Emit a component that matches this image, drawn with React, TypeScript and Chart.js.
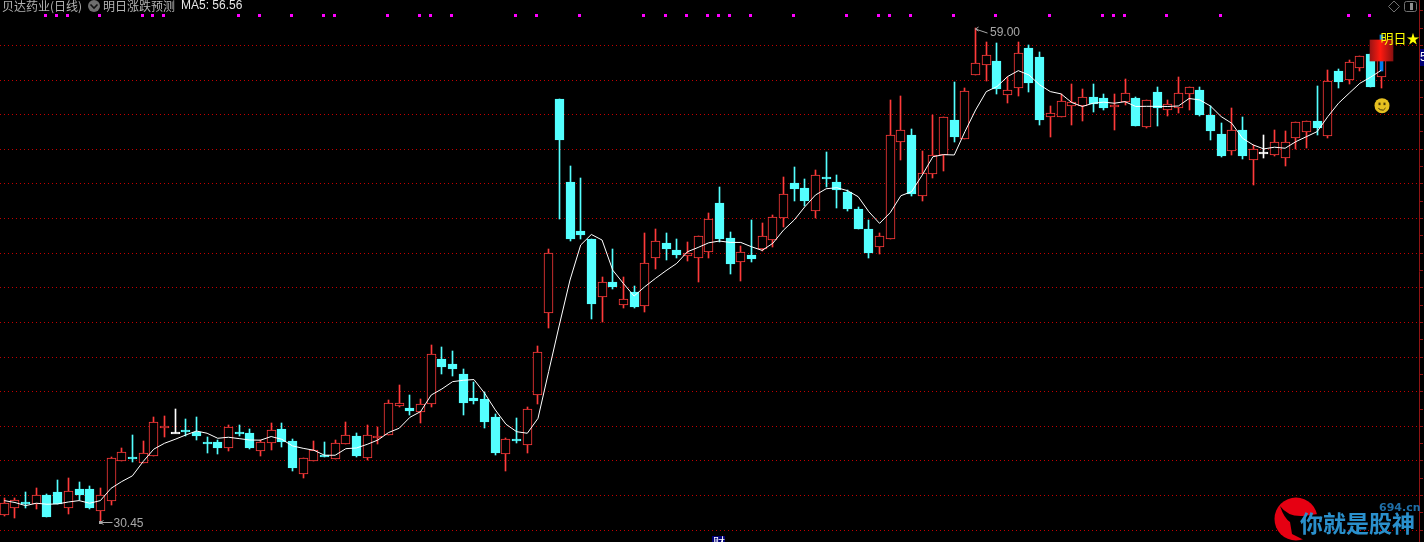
import React, { useEffect, useRef } from "react";
import { Chart, registerables } from "chart.js";

Chart.register(...registerables);

const stockName = "贝达药业(日线)";
const indicatorName = "明日涨跌预测";
const maLabel = "MA5: 56.56";
const highLabel = "59.00";
const lowLabel = "30.45";
const signalText = "明日★涨";
const logoText = "你就是股神";
const logoSite = "694.cn";

const opens = [
  30.90,31.27,31.62,31.54,32.04,32.21,31.27,32.39,32.39,31.10,
  31.67,34.02,34.23,33.91,34.31,35.93,35.70,35.79,35.70,35.10,
  35.10,34.77,35.68,35.62,34.60,35.06,35.85,35.16,33.27,34.02,
  34.33,34.14,35.00,35.45,34.19,35.31,35.52,37.20,37.06,36.85,
  37.27,39.89,39.60,39.02,37.64,37.58,36.54,34.42,35.27,34.94,
  37.83,42.52,54.90,50.11,47.28,46.82,43.49,44.33,43.02,43.75,
  42.97,45.74,46.58,46.18,45.85,45.74,46.08,48.89,46.87,45.51,
  45.89,46.26,46.74,48.01,50.05,49.76,48.41,50.40,50.11,49.53,
  48.55,47.39,46.33,46.80,52.40,52.82,49.28,50.60,51.69,53.70,
  52.62,56.31,56.89,57.10,55.16,55.52,57.85,57.33,53.85,53.85,
  54.52,54.50,55.02,54.95,54.43,54.71,54.97,53.31,55.31,54.29,
  54.41,55.22,55.43,53.98,52.89,51.89,53.12,51.40,51.83,51.69,
  51.52,52.67,53.02,53.64,52.79,56.52,56.02,56.72,57.51,56.20,
];
const highs = [
  31.85,31.85,32.19,32.44,32.08,32.90,33.02,32.79,32.56,32.44,
  34.21,34.75,35.50,35.16,36.54,36.60,37.00,36.43,36.54,35.39,
  35.21,36.06,36.06,35.85,35.21,36.18,36.20,35.25,34.16,35.16,
  35.08,35.20,36.25,35.60,36.08,35.96,37.52,38.39,37.81,37.58,
  40.70,40.58,40.35,39.31,38.58,37.98,36.71,35.33,36.48,37.12,
  40.64,46.24,54.90,51.03,50.34,46.82,44.62,46.24,44.62,44.10,
  47.16,47.39,47.16,46.82,46.64,46.97,48.32,49.82,47.22,46.41,
  47.91,47.74,48.18,50.38,50.95,50.28,50.80,51.84,50.51,49.65,
  48.64,47.91,47.14,54.84,55.07,53.17,51.90,54.00,53.85,55.89,
  55.52,59.00,58.18,58.12,56.18,58.18,58.03,57.62,54.50,55.20,
  55.77,55.49,55.77,55.20,55.20,56.06,55.02,54.87,55.60,54.85,
  56.18,55.58,55.60,54.50,53.52,54.39,53.87,52.25,52.83,53.12,
  53.06,53.56,53.62,55.66,56.58,56.64,57.16,57.39,57.51,57.60,
];
const lows = [
  30.85,30.73,31.27,31.25,30.79,31.50,30.96,31.73,31.25,30.45,
  31.48,33.98,33.96,33.87,34.29,35.41,35.64,35.47,35.23,34.48,
  34.43,34.60,35.47,34.71,34.31,34.66,34.83,33.44,33.04,34.02,
  34.25,34.14,35.00,34.23,34.06,34.98,35.48,37.12,36.66,36.19,
  37.12,39.02,38.91,36.66,37.29,35.91,34.35,33.42,35.04,34.46,
  37.29,41.68,47.97,46.70,46.82,42.20,42.02,43.93,42.83,42.83,
  42.60,45.08,45.60,45.72,45.54,44.33,45.72,46.64,44.79,44.39,
  45.49,46.10,46.33,47.53,49.03,48.72,48.01,49.82,48.61,48.45,
  47.39,45.74,45.95,46.80,51.38,49.30,49.01,50.36,50.75,52.42,
  52.62,56.26,55.95,55.20,54.68,55.08,55.31,53.41,52.71,53.85,
  53.41,53.64,54.16,54.27,53.12,54.56,53.35,53.25,53.35,53.93,
  54.10,54.27,53.93,52.54,51.56,51.67,51.44,49.94,51.50,51.64,
  51.04,52.02,52.08,52.83,52.66,55.54,55.77,56.52,55.60,55.54,
];
const closes = [
  31.56,31.73,31.58,32.02,30.79,31.50,32.25,32.04,31.29,32.02,
  34.16,34.50,34.12,34.45,36.24,36.00,35.70,35.68,35.47,35.08,
  34.75,35.95,35.58,34.75,35.08,35.77,35.10,33.60,34.16,34.62,
  34.27,35.02,35.48,34.29,35.48,35.42,37.33,37.33,36.89,37.27,
  40.16,39.45,39.31,37.35,37.47,36.25,34.46,35.27,35.23,37.00,
  40.27,45.99,52.53,46.82,47.05,43.06,44.31,44.04,43.33,42.89,
  45.41,46.68,46.24,45.89,46.01,46.97,47.97,46.82,45.37,46.05,
  45.66,46.97,48.07,49.39,49.70,49.01,50.49,50.28,49.65,48.55,
  47.39,46.01,46.97,52.80,53.09,49.41,50.61,51.65,53.85,52.71,
  55.35,56.97,57.43,55.49,55.41,57.54,55.85,53.70,54.08,54.77,
  54.71,55.00,54.60,54.39,54.54,55.24,53.35,54.83,54.39,54.60,
  55.24,55.58,53.98,53.06,51.62,53.10,51.62,52.00,51.83,52.40,
  52.40,53.56,53.62,53.23,55.93,55.89,57.02,57.37,55.60,57.30,
];
const ma5 = [
  31.71,31.60,31.42,31.56,31.50,31.52,31.63,31.71,31.56,31.71,
  32.42,32.81,33.14,33.96,34.68,35.02,35.25,35.50,35.73,35.60,
  35.31,35.37,35.29,35.21,35.20,35.41,35.25,34.87,34.73,34.62,
  34.33,34.33,34.71,34.75,34.96,35.21,35.64,35.89,36.52,36.85,
  37.81,38.16,38.58,38.66,38.70,37.91,36.95,36.12,35.69,35.60,
  36.46,39.16,41.85,44.45,46.47,47.08,46.76,45.02,44.25,43.52,
  44.06,44.54,44.99,45.41,46.08,46.33,46.60,46.70,46.62,46.62,
  46.37,46.16,46.57,47.33,47.91,48.68,49.36,49.72,49.78,49.61,
  49.26,48.39,47.72,48.34,49.32,49.55,50.51,51.57,51.69,51.67,
  53.02,54.27,55.33,55.62,56.20,56.54,56.29,55.72,55.33,55.20,
  54.70,54.47,54.66,54.72,54.66,54.75,54.47,54.48,54.48,54.47,
  54.50,54.93,54.85,54.50,53.89,53.50,52.64,52.25,52.02,52.12,
  52.06,52.44,52.73,53.02,53.89,54.66,55.24,55.81,56.16,56.56,
];
const signalDays = [
  4,5,6,9,13,14,15,22,24,27,30,31,36,39,40,42,48,50,54,60,62,64,66,67,68,70,74,
  79,82,83,85,89,93,98,103,104,105,109,114,126,128,
];
const signalLevel = 59.72;
const lastDay = 129;
const highDay = 91;
const lowDay = 9;
const blueRange = [56.52, 58.6];
const blockRange = [57.1, 58.32];
const smileLevel = 54.52;
const signalTextLevel = 58.43;
const topGridLevel = 58;

const RED = "#ff3a3a";
const CYAN = "#54ffff";
const WHITE = "#ffffff";
const days = closes.map((_, i) => i);
const candleColor = (i: number) =>
  closes[i] > opens[i] ? RED : closes[i] < opens[i] ? CYAN : WHITE;

const snapPlugin = {
  id: "snap",
  afterDatasetsUpdate(chart: any) {
    chart.data.datasets.forEach((ds: any, di: number) => {
      const meta = chart.getDatasetMeta(di);
      meta.data.forEach((el: any) => {
        if (ds.type === "bar") {
          el.x = Math.floor(el.x) + 0.5;
          let top = Math.round(Math.min(el.y, el.base));
          let bot = Math.round(Math.max(el.y, el.base));
          if (ds.minBody && bot - top < ds.minBody) bot = top + ds.minBody;
          el.y = top;
          el.base = bot;
          el.height = bot - top;
        } else if (ds.snapDots) {
          el.x = Math.floor(el.x) - 0.5;
          el.y = Math.floor(el.y) + 0.5;
        }
      });
    });
  },
};

const overlayPlugin = {
  id: "overlay",
  afterDraw(chart: any) {
    const { ctx, scales, chartArea } = chart;
    const X = (v: number) => scales.x.getPixelForValue(v);
    const Y = (v: number) => scales.y.getPixelForValue(v);
    ctx.save();
    ctx.textBaseline = "middle";
    ctx.textAlign = "left";
    const cjk = '12px "Noto Sans CJK SC"';
    const lat = '12px "Liberation Sans"';

    // Header
    ctx.font = cjk;
    ctx.fillStyle = "#b4b4b4";
    ctx.fillText(stockName, 2, 6);
    ctx.fillStyle = "#6e6e6e";
    ctx.beginPath();
    ctx.arc(94, 6, 6, 0, Math.PI * 2);
    ctx.fill();
    ctx.strokeStyle = "#111";
    ctx.lineWidth = 1.6;
    ctx.beginPath();
    ctx.moveTo(90.5, 4.5);
    ctx.lineTo(94, 8);
    ctx.lineTo(97.5, 4.5);
    ctx.stroke();
    ctx.fillStyle = "#b4b4b4";
    ctx.fillText(indicatorName, 103, 6);
    ctx.font = lat;
    ctx.fillStyle = "#e6e6e6";
    ctx.fillText(maLabel, 181, 6);

    // Top-right icons
    ctx.strokeStyle = "#707070";
    ctx.lineWidth = 1;
    ctx.beginPath();
    ctx.moveTo(1394, 1);
    ctx.lineTo(1399.5, 6.5);
    ctx.lineTo(1394, 12);
    ctx.lineTo(1388.5, 6.5);
    ctx.closePath();
    ctx.stroke();
    ctx.beginPath();
    ctx.roundRect(1404.5, 1.5, 12, 10, 2);
    ctx.stroke();
    ctx.fillStyle = "#909090";
    ctx.fillRect(1410, 3, 3, 7);

    // High and low markers
    ctx.strokeStyle = "#a8a8a8";
    ctx.fillStyle = "#a8a8a8";
    const hx = Math.floor(X(highDay)) + 0.5;
    const hy = Y(highs[highDay]) + 1;
    ctx.beginPath();
    ctx.moveTo(hx + 3, hy - 2);
    ctx.lineTo(hx, hy);
    ctx.lineTo(hx + 3, hy + 2);
    ctx.moveTo(hx, hy);
    ctx.lineTo(hx + 12, hy + 4);
    ctx.stroke();
    ctx.font = lat;
    ctx.fillText(highLabel, 990, 33);

    const lx = Math.floor(X(lowDay)) + 0.5;
    const ly = Math.round(Y(lows[lowDay])) + 0.5;
    ctx.beginPath();
    ctx.moveTo(lx + 3, ly - 2);
    ctx.lineTo(lx, ly);
    ctx.lineTo(lx + 3, ly + 2);
    ctx.moveTo(lx, ly);
    ctx.lineTo(lx + 12, ly);
    ctx.stroke();
    ctx.fillRect(lx - 1.5, ly - 1.5, 3, 3);
    ctx.fillText(lowLabel, 113.5, ly + 1);

    // Signal text, clipped by the axis
    ctx.save();
    ctx.beginPath();
    ctx.rect(0, 0, chartArea.right, chart.height);
    ctx.clip();
    ctx.font = '13px "Noto Sans CJK SC"';
    ctx.fillStyle = "#ffff00";
    ctx.fillText(signalText, 1380.5, Y(signalTextLevel));
    ctx.restore();

    // Smiley
    const sx = Math.floor(X(lastDay)) + 1;
    const sy = Y(smileLevel);
    ctx.fillStyle = "#e6c020";
    ctx.beginPath();
    ctx.arc(sx, sy, 7.5, 0, Math.PI * 2);
    ctx.fill();
    ctx.fillStyle = "#4a3a08";
    ctx.fillRect(sx - 3.5, sy - 3, 2, 2.5);
    ctx.fillRect(sx + 1.5, sy - 3, 2, 2.5);
    ctx.strokeStyle = "#4a3a08";
    ctx.lineWidth = 1;
    ctx.beginPath();
    ctx.arc(sx, sy + 0.5, 4, 0.15 * Math.PI, 0.85 * Math.PI);
    ctx.stroke();

    // Boxes on the axis and the time axis
    ctx.fillStyle = "#000078";
    ctx.fillRect(1420, 49, 4, 17);
    ctx.fillRect(712, 536, 13, 6);
    ctx.fillStyle = "#ffffff";
    ctx.save();
    ctx.beginPath();
    ctx.rect(1420, 49, 4, 17);
    ctx.clip();
    ctx.font = lat;
    ctx.fillText("5", 1420, 58);
    ctx.restore();
    ctx.save();
    ctx.beginPath();
    ctx.rect(712, 536, 13, 6);
    ctx.clip();
    ctx.font = cjk;
    ctx.fillText("财", 713, 542);
    ctx.restore();

    // Watermark
    ctx.fillStyle = "#e60012";
    ctx.beginPath();
    ctx.arc(1296, 519, 21.5, 0, Math.PI * 2);
    ctx.fill();
    ctx.fillStyle = "#000";
    ctx.beginPath();
    ctx.moveTo(1280, 506);
    ctx.quadraticCurveTo(1288, 517, 1303, 516);
    ctx.lineTo(1318, 514);
    ctx.lineTo(1318, 542);
    ctx.lineTo(1302, 539);
    ctx.lineTo(1292, 534);
    ctx.lineTo(1290, 522);
    ctx.quadraticCurveTo(1284, 518, 1280, 506);
    ctx.fill();
    ctx.font = 'bold 23px "Noto Sans CJK SC"';
    ctx.fillStyle = "#2a90cc";
    ctx.fillText(logoText, 1300, 523);
    ctx.font = 'bold 11px "DejaVu Sans"';
    ctx.fillStyle = "#1f6fa8";
    ctx.fillText(logoSite, 1379, 508);
    ctx.restore();
  },
};

export default function App() {
  const ref = useRef<HTMLCanvasElement | null>(null);

  useEffect(() => {
    if (!ref.current) return;
    const blockFill = (c: any) => {
      const a = c.chart.chartArea;
      if (!a) return "#e01010";
      const g = c.chart.ctx.createLinearGradient(1370, 0, 1393, 0);
      g.addColorStop(0, "#9a1414");
      g.addColorStop(0.45, "#ff1a10");
      g.addColorStop(1, "#8a1010");
      return g;
    };
    const chart = new Chart(ref.current, {
      type: "bar",
      data: {
        datasets: [
          {
            type: "line",
            data: days.map((d) => ({ x: d, y: ma5[d] })),
            borderColor: "#ffffff",
            borderWidth: 1,
            pointRadius: 0,
            tension: 0,
            order: 1,
          },
          {
            type: "line",
            snapDots: true,
            data: signalDays.map((d) => ({ x: d, y: signalLevel })),
            showLine: false,
            pointStyle: "rect",
            pointRadius: 2.13,
            pointBorderWidth: 0,
            pointBackgroundColor: "#ff00ff",
            order: 1,
          },
          {
            type: "bar",
            data: [{ x: lastDay, y: blockRange }],
            barThickness: 23,
            backgroundColor: blockFill,
            grouped: false,
            order: 2,
          },
          {
            type: "bar",
            data: [{ x: lastDay, y: blueRange }],
            barThickness: 3,
            backgroundColor: "#0080f0",
            grouped: false,
            order: 3,
          },
          {
            type: "bar",
            minBody: 2,
            data: days.map((d) => ({
              x: d,
              y: [Math.min(opens[d], closes[d]), Math.max(opens[d], closes[d])],
            })),
            barThickness: 9,
            borderWidth: 1,
            borderSkipped: false,
            borderColor: days.map(candleColor),
            backgroundColor: days.map((d) =>
              closes[d] > opens[d] ? "#000000" : candleColor(d)
            ),
            grouped: false,
            order: 4,
          },
          {
            type: "bar",
            data: days.map((d) => ({ x: d, y: [lows[d], highs[d]] })),
            barThickness: 1,
            backgroundColor: days.map(candleColor),
            grouped: false,
            order: 5,
          },
        ] as any,
      },
      options: {
        animation: false,
        responsive: false,
        devicePixelRatio: 1,
        layout: { padding: 0, autoPadding: false },
        plugins: { legend: { display: false }, tooltip: { enabled: false } },
        events: [],
        scales: {
          x: {
            type: "linear",
            display: false,
            offset: false,
            min: -0.403,
            max: 132.54,
          },
          y: {
            type: "linear",
            position: "right",
            min: 29.32,
            max: 60.62,
            afterFit: (s: any) => {
              s.width = 5;
            },
            ticks: { display: false, stepSize: 1, includeBounds: false },
            border: { display: true, color: "#901414", width: 1, dash: [1, 3] },
            grid: {
              color: (c: any) =>
                c.tick && c.tick.value % 2 === 0 && c.tick.value <= topGridLevel
                  ? "#c40000"
                  : "rgba(0,0,0,0)",
              tickColor: "#901414",
              tickLength: 4,
              tickBorderDash: [],
              lineWidth: 1,
            },
          },
        },
      } as any,
      plugins: [snapPlugin, overlayPlugin] as any,
    });
    return () => chart.destroy();
  }, []);

  return (
    <div style={{ position: "fixed", left: 0, top: 0, width: 1424, height: 542, background: "#000" }}>
      <canvas ref={ref} width={1424} height={542} style={{ display: "block" }} />
    </div>
  );
}
